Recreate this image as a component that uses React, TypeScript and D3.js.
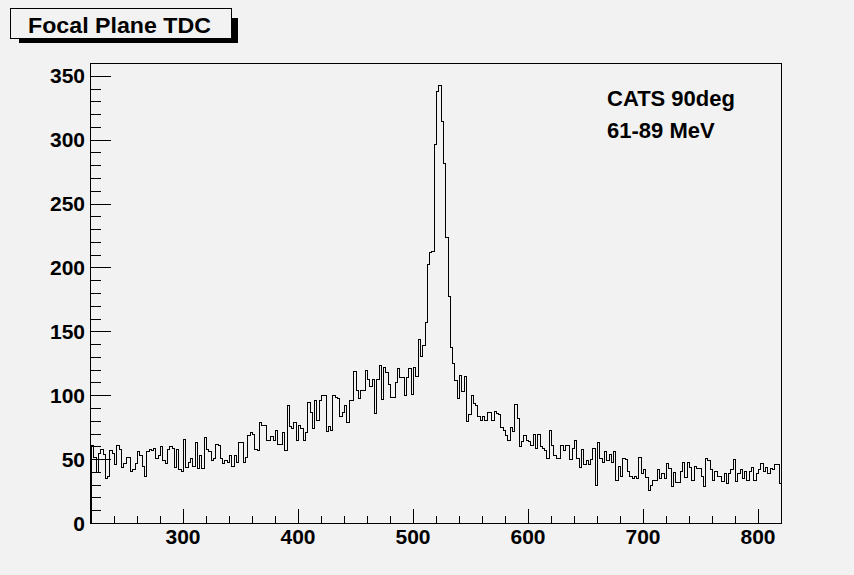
import React from "react";
import * as d3 from "d3";

const binLow = 220;
const binWidth = 2;
const counts: number[] = [
  61,52,40,55,58,54,35,37,57,55,
  46,61,58,44,47,52,52,41,42,47,
  56,53,45,37,56,58,57,59,51,53,
  60,49,47,58,60,59,44,58,42,41,
  66,44,48,51,45,63,43,53,43,67,
  58,56,49,51,62,61,51,47,49,48,
  53,45,53,48,63,63,48,52,69,71,
  70,58,57,79,77,77,65,65,68,65,
  73,62,62,71,57,92,76,74,79,65,
  77,74,65,71,95,87,74,96,81,96,
  100,100,72,76,73,100,99,98,84,87,
  92,79,96,96,119,104,98,104,104,120,
  113,107,113,86,113,124,97,122,118,109,
  99,99,110,121,114,114,100,114,121,101,
  122,115,
  144,131,139,157,203,212,213,297,338,343,
  315,282,224,178,
  138,125,112,98,116,103,115,80,85,100,
  94,92,84,81,84,81,87,87,81,88,
  86,85,75,73,69,65,75,72,93,82,
  60,64,69,65,64,61,70,59,70,60,
  59,57,51,73,61,53,
  51,51,61,57,61,61,50,59,65,51,
  44,58,46,49,46,50,59,30,63,51,
  48,56,49,54,48,56,34,45,37,51,
  50,41,37,35,37,35,52,39,42,36,
  26,30,34,34,42,35,39,35,47,43,
  29,40,32,32,41,48,36,48,44,34,
  45,43,43,37,29,51,49,42,34,41,
  37,37,33,39,31,39,42,50,33,39,
  42,35,41,34,41,44,34,39,42,47,
  41,44,39,43,42,46,46,31,
];
const xDomain = [220, 820];
const yDomain = [0, 360];
const xMajorTicks = [300, 400, 500, 600, 700, 800];
const yMajorTicks = [0, 50, 100, 150, 200, 250, 300, 350];
const xMinorStep = 20;
const yMinorStep = 10;
const title = "Focal Plane TDC";
const labelLines = ["CATS 90deg", "61-89 MeV"];

const W = 854;
const H = 575;
const FONT = "'Liberation Sans', Arial, Helvetica, sans-serif";
const BG = "#f2f2f2";

export default function App() {
  const x = d3.scaleLinear().domain(xDomain).range([91, 781]);
  const y = d3.scaleLinear().domain(yDomain).range([523, 63]);
  const x0 = x(xDomain[0]);
  const x1 = x(xDomain[1]);
  const y0 = y(yDomain[0]);
  const y1 = y(yDomain[1]);

  const pts: [number, number][] = [];
  pts.push([binLow, 0]);
  counts.forEach((c, i) => {
    const lo = binLow + i * binWidth;
    pts.push([lo, c]);
    pts.push([lo + binWidth, c]);
  });
  pts.push([binLow + counts.length * binWidth, 0]);
  const line = d3
    .line<[number, number]>()
    .x((d) => Math.round(x(d[0])) + 0.5)
    .y((d) => Math.round(y(d[1])) + 0.5);
  const histPath = line(pts) || "";

  const xMinor = d3.range(xDomain[0], xDomain[1] + 0.001, xMinorStep);
  const yMinor = d3.range(yDomain[0], yDomain[1] + 0.001, yMinorStep);
  const xTickLenMajor = 14;
  const xTickLenMinor = 7;
  const yTickLenMajor = 20;
  const yTickLenMinor = 10;

  const px = (v: number) => Math.round(x(v)) + 0.5;
  const py = (v: number) => Math.round(y(v)) + 0.5;

  return (
    <div style={{ position: "absolute", left: 0, top: 0, width: W, height: H }}>
      <svg width={W} height={H} style={{ display: "block" }} fontFamily={FONT}>
        <rect x={0} y={0} width={W} height={H} fill={BG} />
        <rect x={19} y={18} width={219} height={25} fill="#000" />
        <rect x={10.5} y={8.5} width={221} height={30} fill={BG} stroke="#000" strokeWidth={1} />
        <text x={28} y={33} fontSize={22} fontWeight="bold" fill="#000" textLength={183} lengthAdjust="spacingAndGlyphs">
          {title}
        </text>

        <rect
          x={Math.round(x0) - 0.5}
          y={Math.round(y1) + 0.5}
          width={Math.round(x1) - Math.round(x0) + 1}
          height={Math.round(y0) - Math.round(y1)}
          fill={BG}
          stroke="#000"
          strokeWidth={1}
          shapeRendering="crispEdges"
        />

        <path d={histPath} fill="none" stroke="#000" strokeWidth={1} shapeRendering="crispEdges" />

        {xMinor.map((v) => {
          const major = xMajorTicks.includes(v);
          return (
            <line
              key={"xm" + v}
              x1={px(v)}
              x2={px(v)}
              y1={Math.round(y0)}
              y2={Math.round(y0) - (major ? xTickLenMajor : xTickLenMinor)}
              stroke="#000"
              shapeRendering="crispEdges"
            />
          );
        })}
        {yMinor.map((v) => {
          const major = yMajorTicks.includes(v);
          return (
            <line
              key={"ym" + v}
              x1={Math.round(x0)}
              x2={Math.round(x0) + (major ? yTickLenMajor : yTickLenMinor)}
              y1={py(v)}
              y2={py(v)}
              stroke="#000"
              shapeRendering="crispEdges"
            />
          );
        })}
        <line x1={Math.round(x0) - 0.5} x2={Math.round(x0) - 0.5} y1={y1} y2={y0 + 1} stroke="#000" shapeRendering="crispEdges" />
        <line x1={x0 - 1} x2={x1 + 1} y1={Math.round(y0) + 0.5} y2={Math.round(y0) + 0.5} stroke="#000" shapeRendering="crispEdges" />

        {xMajorTicks.map((v) => (
          <text key={"xl" + v} x={x(v)} y={544} fontSize={21} fontWeight="bold" textAnchor="middle" fill="#000">
            {v}
          </text>
        ))}
        {yMajorTicks.map((v) => (
          <text key={"yl" + v} x={85} y={y(v) + 7.5} fontSize={21} fontWeight="bold" textAnchor="end" fill="#000">
            {v}
          </text>
        ))}

        {labelLines.map((t, i) => (
          <text key={t} x={607} y={106 + i * 32} fontSize={22} fontWeight="bold" fill="#000">
            {t}
          </text>
        ))}
      </svg>
    </div>
  );
}
